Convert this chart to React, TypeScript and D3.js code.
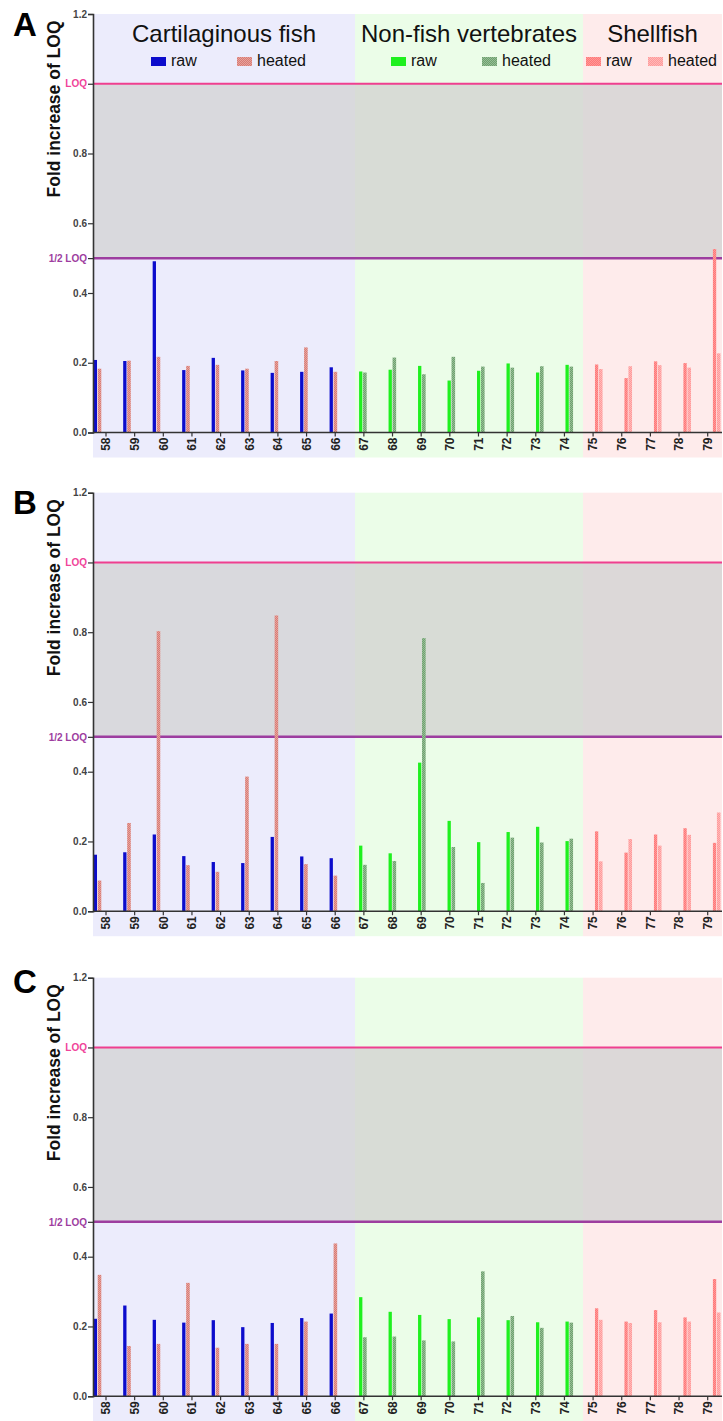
import React, { useEffect, useRef } from "react";
import * as d3 from "d3";

// categories on the x axis (sample numbers)
const categories = [
  "58", "59", "60", "61", "62", "63", "64", "65", "66",
  "67", "68", "69", "70", "71", "72", "73", "74",
  "75", "76", "77", "78", "79",
];
const groupNames = ["Cartilaginous fish", "Non-fish vertebrates", "Shellfish"];
// first category of each group
const groupStarts = ["58", "67", "75"];
const panelNames = ["A", "B", "C"];
const yTicks = [0, 0.2, 0.4, 0.5, 0.6, 0.8, 1.0, 1.2];

// panel A
const rawA = [
  0.208, 0.205, 0.491, 0.179, 0.214, 0.178, 0.171, 0.174, 0.187,
  0.175, 0.18, 0.191, 0.149, 0.177, 0.198, 0.172, 0.194,
  0.195, 0.156, 0.204, 0.199, 0.526,
];
const heatedA = [
  0.183, 0.206, 0.217, 0.191, 0.194, 0.183, 0.205, 0.244, 0.174,
  0.172, 0.215, 0.167, 0.217, 0.189, 0.186, 0.19, 0.189,
  0.182, 0.19, 0.193, 0.186, 0.227,
];
// panel B
const rawB = [
  0.162, 0.169, 0.22, 0.158, 0.141, 0.138, 0.213, 0.157, 0.152,
  0.188, 0.166, 0.426, 0.259, 0.198, 0.227, 0.242, 0.201,
  0.229, 0.168, 0.22, 0.238, 0.196,
];
const heatedB = [
  0.088, 0.253, 0.803, 0.132, 0.113, 0.386, 0.848, 0.135, 0.102,
  0.133, 0.144, 0.783, 0.184, 0.081, 0.211, 0.197, 0.208,
  0.143, 0.207, 0.188, 0.219, 0.283,
];
// panel C
const rawC = [
  0.222, 0.26, 0.219, 0.211, 0.218, 0.198, 0.21, 0.224, 0.237,
  0.284, 0.242, 0.233, 0.221, 0.226, 0.218, 0.212, 0.214,
  0.252, 0.214, 0.247, 0.226, 0.336,
];
const heatedC = [
  0.348, 0.144, 0.15, 0.325, 0.139, 0.15, 0.15, 0.214, 0.438,
  0.169, 0.171, 0.16, 0.157, 0.358, 0.23, 0.196, 0.211,
  0.219, 0.21, 0.212, 0.214, 0.24,
];
const rawSeries = [rawA, rawB, rawC];
const heatedSeries = [heatedA, heatedB, heatedC];

const font = "'Liberation Sans', Arial, sans-serif";
const rawColors = ["#0c0ccc", "#1ff01f", "#ff7878"];
const rawLight = [null, null, "#ff9898"];
const heatedColors = ["#d77c75", "#6f9f6f", "#ff9a9a"];
const heatedLight = ["#e8a29c", "#95bf95", "#ffb8b8"];
const bgLight = ["#ececfc", "#ebfde8", "#feebeb"];
const bgGray = ["#d9d9dd", "#d8dcd6", "#dcd8d8"];

const App = () => {
  const ref = useRef<SVGSVGElement>(null);

  useEffect(() => {
    const svg = d3.select(ref.current);
    svg.selectAll("*").remove();

    const left = 93,
      right = 722,
      plotH = 418.5,
      labelBand = 25;
    const panelTop = [14, 492.7, 977.7];
    const letterDy = [22, 21, 15];
    const edges = [93, 355, 583, 722];
    const legendX = [
      [151, 237],
      [391, 482],
      [586, 648],
    ];

    const barX = d3.scalePoint().domain(categories).range([97.5, 716.7]);
    const tickX = d3.scalePoint().domain(categories).range([106, 707.7]);
    const groupOf = (c) =>
      d3.bisectRight(groupStarts.map((s) => categories.indexOf(s)), categories.indexOf(c)) - 1;

    // textures for the hatched bars
    const defs = svg.append("defs");
    const makePattern = (id, base, light) => {
      const p = defs
        .append("pattern")
        .attr("id", id)
        .attr("width", 2)
        .attr("height", 2)
        .attr("patternUnits", "userSpaceOnUse");
      p.append("rect").attr("width", 2).attr("height", 2).attr("fill", base);
      p.append("rect").attr("width", 1).attr("height", 1).attr("fill", light);
      p.append("rect").attr("x", 1).attr("y", 1).attr("width", 1).attr("height", 1).attr("fill", light);
    };
    groupNames.forEach((_, k) => {
      makePattern("heat" + k, heatedColors[k], heatedLight[k]);
      if (rawLight[k]) makePattern("raw" + k, rawColors[k], rawLight[k]);
    });
    const rawFill = (k) => (rawLight[k] ? "url(#raw" + k + ")" : rawColors[k]);
    const heatFill = (k) => "url(#heat" + k + ")";

    panelNames.forEach((name, p) => {
      const top = panelTop[p];
      const y = d3.scaleLinear().domain([0, 1.2]).range([top + plotH, top]);
      const g = svg.append("g");

      // backgrounds
      groupNames.forEach((_, k) => {
        g.append("rect")
          .attr("x", edges[k])
          .attr("y", y(1.2))
          .attr("width", edges[k + 1] - edges[k])
          .attr("height", y(0) + labelBand - y(1.2))
          .attr("fill", bgLight[k]);
        g.append("rect")
          .attr("x", edges[k])
          .attr("y", y(1))
          .attr("width", edges[k + 1] - edges[k])
          .attr("height", y(0.5) - y(1))
          .attr("fill", bgGray[k]);
      });

      // LOQ lines
      g.append("line")
        .attr("x1", left)
        .attr("x2", right)
        .attr("y1", y(1))
        .attr("y2", y(1))
        .attr("stroke", "#ef3f8f")
        .attr("stroke-width", 2);
      g.append("line")
        .attr("x1", left)
        .attr("x2", right)
        .attr("y1", y(0.5))
        .attr("y2", y(0.5))
        .attr("stroke", "#9d3d9f")
        .attr("stroke-width", 2.5);

      // bars
      const raw = rawSeries[p];
      const heated = heatedSeries[p];
      g.selectAll(".raw")
        .data(categories)
        .enter()
        .append("rect")
        .attr("x", (c) => barX(c) - 3.8)
        .attr("width", 3.3)
        .attr("y", (c, i) => y(raw[i]))
        .attr("height", (c, i) => y(0) - y(raw[i]))
        .attr("fill", (c) => rawFill(groupOf(c)));
      g.selectAll(".heated")
        .data(categories)
        .enter()
        .append("rect")
        .attr("x", (c) => barX(c) + 0.2)
        .attr("width", 3.6)
        .attr("y", (c, i) => y(heated[i]))
        .attr("height", (c, i) => y(0) - y(heated[i]))
        .attr("fill", (c) => heatFill(groupOf(c)));

      // y axis
      const yAxis = g
        .append("g")
        .attr("transform", "translate(" + left + ",0)")
        .call(
          d3
            .axisLeft(y)
            .tickValues(yTicks)
            .tickSizeOuter(0)
            .tickSize(5)
            .tickPadding(1)
            .tickFormat((d) => (d === 1 ? "LOQ" : d === 0.5 ? "1/2 LOQ" : d3.format(".1f")(d)))
        );
      yAxis.select(".domain").attr("stroke", "#333").attr("stroke-width", 1.6);
      yAxis.selectAll(".tick line").attr("stroke", "#333").attr("stroke-width", 1.2);
      yAxis
        .selectAll(".tick text")
        .attr("font-family", font)
        .attr("font-size", 10)
        .attr("font-weight", "bold")
        .attr("fill", (d) => (d === 1 ? "#f0449a" : d === 0.5 ? "#9d3d9f" : "#444"));

      // x axis
      g.append("line")
        .attr("x1", left)
        .attr("x2", right)
        .attr("y1", y(0))
        .attr("y2", y(0))
        .attr("stroke", "#333")
        .attr("stroke-width", 1.6);
      g.selectAll(".xt")
        .data(categories)
        .enter()
        .append("line")
        .attr("x1", (c) => tickX(c))
        .attr("x2", (c) => tickX(c))
        .attr("y1", y(0))
        .attr("y2", y(0) + 4)
        .attr("stroke", "#333")
        .attr("stroke-width", 1.2);
      g.selectAll(".xl")
        .data(categories)
        .enter()
        .append("text")
        .attr("transform", (c) => "translate(" + tickX(c) + "," + (y(0) + 5) + ") rotate(-90)")
        .attr("dy", "0.36em")
        .attr("text-anchor", "end")
        .attr("font-family", font)
        .attr("font-size", 12)
        .attr("font-weight", "bold")
        .attr("fill", "#222")
        .text((c) => c);

      // axis title + panel letter
      g.append("text")
        .attr("transform", "translate(60," + (top + 95) + ") rotate(-90)")
        .attr("text-anchor", "middle")
        .attr("font-family", font)
        .attr("font-size", 17.5)
        .attr("font-weight", "bold")
        .attr("fill", "#111")
        .text("Fold increase of LOQ");
      g.append("text")
        .attr("x", 13)
        .attr("y", top + letterDy[p])
        .attr("font-family", font)
        .attr("font-size", 33)
        .attr("font-weight", "bold")
        .attr("fill", "#000")
        .text(name);

      // group titles and legend only on top panel
      if (p === 0) {
        groupNames.forEach((gn, k) => {
          g.append("text")
            .attr("x", (edges[k] + edges[k + 1]) / 2)
            .attr("y", 42)
            .attr("text-anchor", "middle")
            .attr("font-family", font)
            .attr("font-size", 24)
            .attr("fill", "#111")
            .text(gn);
          [
            ["raw", rawFill(k)],
            ["heated", heatFill(k)],
          ].forEach(([lbl, fill], j) => {
            g.append("rect")
              .attr("x", legendX[k][j])
              .attr("y", 57)
              .attr("width", 15)
              .attr("height", 9)
              .attr("fill", fill);
            g.append("text")
              .attr("x", legendX[k][j] + 20)
              .attr("y", 66)
              .attr("font-family", font)
              .attr("font-size", 16)
              .attr("fill", "#111")
              .text(lbl);
          });
        });
      }
    });
  }, []);

  return (
    <svg
      ref={ref}
      width={723}
      height={1421}
      style={{ position: "absolute", left: 0, top: 0, background: "#fff" }}
    ></svg>
  );
};

export default App;
